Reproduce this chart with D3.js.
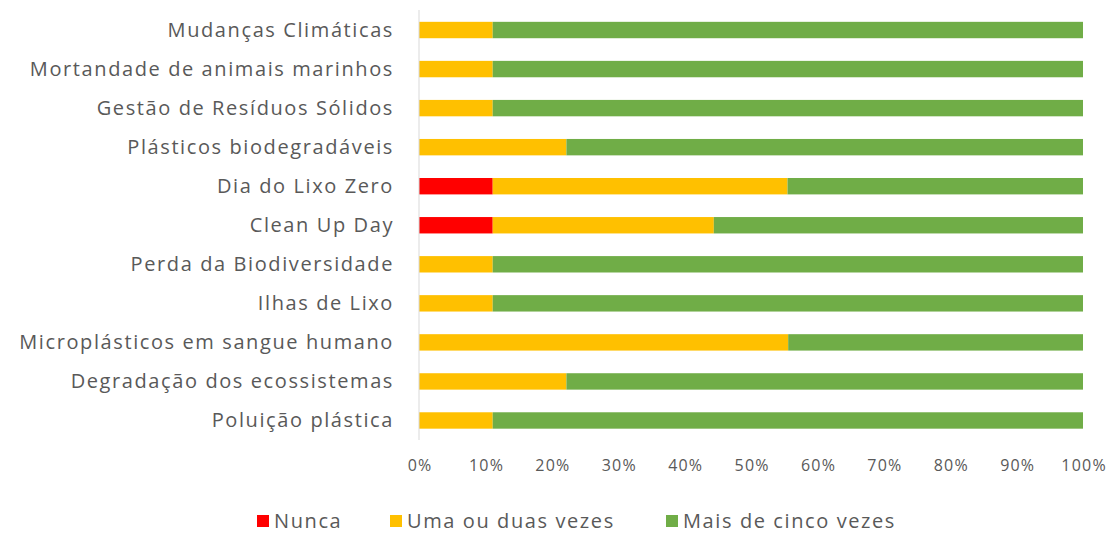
<!DOCTYPE html>
<html><head><meta charset="utf-8">
<script src="https://cdn.jsdelivr.net/npm/d3@7"></script>
<style>body{margin:0;background:#fff;} text{font-family:"Open Sans",sans-serif;}</style>
</head><body><svg id="c" width="1112" height="534"></svg>
<script>
const categories = ["Mudanças Climáticas","Mortandade de animais marinhos","Gestão de Resíduos Sólidos","Plásticos biodegradáveis","Dia do Lixo Zero","Clean Up Day","Perda da Biodiversidade","Ilhas de Lixo","Microplásticos em sangue humano","Degradação dos ecossistemas","Poluição plástica"];
const seriesNames = ["Nunca","Uma ou duas vezes","Mais de cinco vezes"];
const nunca =   [0,0,0,0,11.1,11.1,0,0,0,0,0];
const umaDuas = [11.1,11.1,11.1,22.2,44.4,33.3,11.1,11.1,55.6,22.2,11.1];
const mais =    [88.9,88.9,88.9,77.8,44.5,55.6,88.9,88.9,44.4,77.8,88.9];
const colors = ["#FF0000","#FFC000","#70AD47"];
const tickValues = [0,10,20,30,40,50,60,70,80,90,100];

const svg = d3.select("#c");
const x = d3.scaleLinear().domain([0,100]).range([419,1083]);
const y = d3.scaleBand().domain(categories).range([10.5,440]).paddingInner(0.58).paddingOuter(0.29);

const rows = categories.map((c,i)=>({cat:c, Nunca:nunca[i], "Uma ou duas vezes":umaDuas[i], "Mais de cinco vezes":mais[i]}));
const stacked = d3.stack().keys(seriesNames)(rows);

svg.append("g").selectAll("g").data(stacked).join("g").attr("fill",(d,i)=>colors[i])
  .selectAll("rect").data(d=>d).join("rect")
  .attr("x",d=>x(d[0])).attr("width",d=>Math.max(0,x(d[1])-x(d[0])))
  .attr("y",d=>y(d.data.cat)).attr("height",y.bandwidth());

svg.append("line").attr("x1",x(0)).attr("x2",x(0)).attr("y1",10).attr("y2",440).attr("stroke","#d9d9d9").attr("stroke-width",1);

const yAxis = svg.append("g").attr("transform",`translate(${x(0)-25},0)`).call(d3.axisLeft(y).tickSize(0).tickPadding(0));
yAxis.select(".domain").remove();
yAxis.selectAll("text").attr("font-size",20).attr("letter-spacing","1.6px").attr("fill","#595959").attr("font-family","'Open Sans',sans-serif").attr("dy","0.35em");

const xAxis = svg.append("g").attr("transform","translate(0,460)").call(d3.axisBottom(x).tickValues(tickValues).tickFormat(d=>d+"%").tickSize(0).tickPadding(0));
xAxis.select(".domain").remove();
xAxis.selectAll("text").attr("font-size",16).attr("letter-spacing","1.2px").attr("fill","#595959").attr("font-family","'Open Sans',sans-serif").attr("dx","0.6px");

const legX = [257,390,666];
const leg = svg.append("g").selectAll("g").data(seriesNames).join("g").attr("transform",(d,i)=>`translate(${legX[i]},521)`);
leg.append("rect").attr("x",0).attr("y",-6).attr("width",12).attr("height",12).attr("fill",(d,i)=>colors[i]);
leg.append("text").attr("x",17).attr("dy","0.35em").attr("font-size",20).attr("letter-spacing","1.6px").attr("fill","#595959").text(d=>d);
</script></body></html>
